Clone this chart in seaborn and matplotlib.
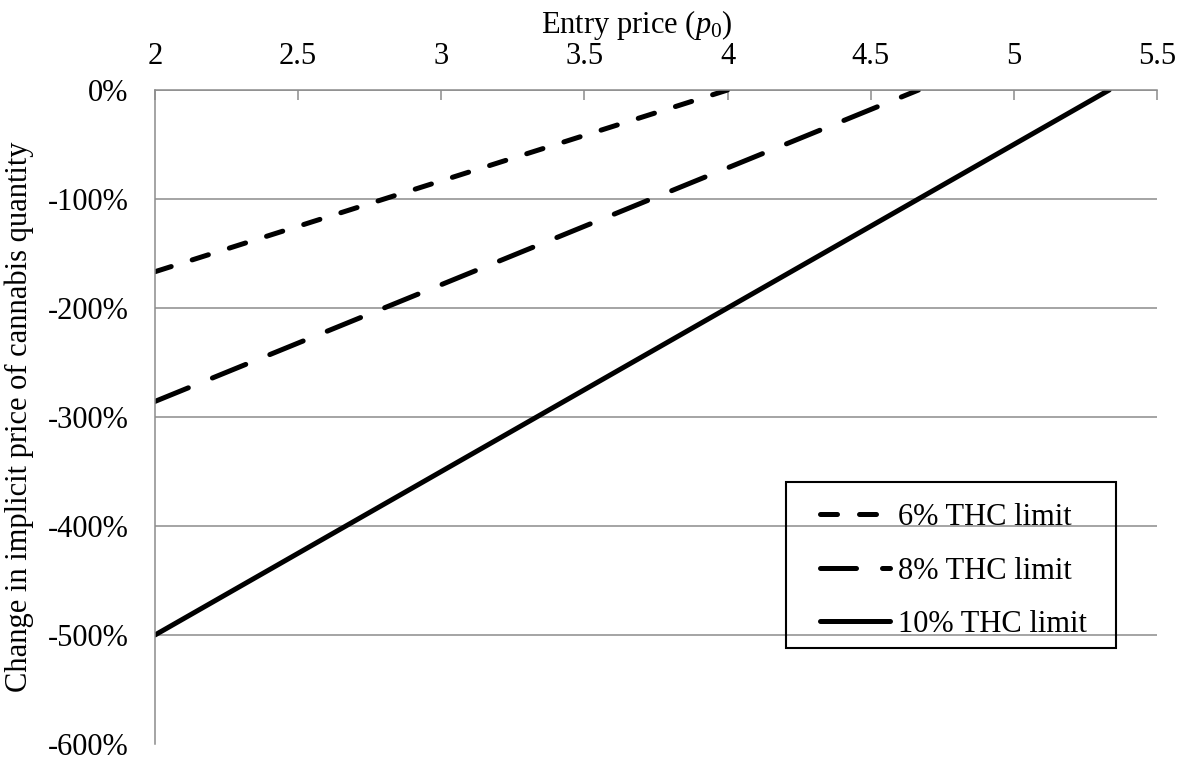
import numpy as np
import pandas as pd
import matplotlib
matplotlib.use('Agg')
import matplotlib.pyplot as plt
import seaborn as sns
from matplotlib.ticker import FuncFormatter
from matplotlib.patches import Rectangle

# values
series_names = ['6% THC limit', '8% THC limit', '10% THC limit']
price_6 = [2.0, 4.0]
change_6 = [-166.7, 0.0]
price_8 = [2.0, 4.667]
change_8 = [-285.7, 0.0]
price_10 = [2.0, 5.333]
change_10 = [-500.0, 0.0]

x_ticks = [2, 2.5, 3, 3.5, 4, 4.5, 5, 5.5]
x_tick_labels = ['2', '2.5', '3', '3.5', '4', '4.5', '5', '5.5']
y_ticks = [0, -100, -200, -300, -400, -500, -600]

df = pd.concat([
	pd.DataFrame({'price': price_6, 'change': change_6, 'series': series_names[0]}),
	pd.DataFrame({'price': price_8, 'change': change_8, 'series': series_names[1]}),
	pd.DataFrame({'price': price_10, 'change': change_10, 'series': series_names[2]}),
], ignore_index=True)

sns.set_style('white')
plt.rcParams['font.family'] = ['Liberation Serif', 'DejaVu Serif']
plt.rcParams['mathtext.fontset'] = 'custom'
plt.rcParams['mathtext.rm'] = 'Liberation Serif'
plt.rcParams['mathtext.it'] = 'Liberation Serif:italic'
plt.rcParams['lines.dash_capstyle'] = 'round'
plt.rcParams['lines.solid_capstyle'] = 'round'
plt.rcParams['text.color'] = 'black'
plt.rcParams['axes.labelcolor'] = 'black'

grey = '#8c8c8c'
fs = 22
W, H = 1184, 760

fig = plt.figure(figsize=(W / 100, H / 100), dpi=100)
ax = fig.add_axes([155 / W, 1 - 744 / H, (1157 - 155) / W, (744 - 90) / H])

dashes = {series_names[0]: (3.4, 4.4), series_names[1]: (7.2, 5.2), series_names[2]: ''}
sns.lineplot(data=df, x='price', y='change', hue='series', style='series',
             palette=['black'] * 3, dashes=dashes, linewidth=3.6, ax=ax)

ax.set_xlim(2, 5.5)
ax.set_ylim(-600, 0)
ax.set_xticks(x_ticks)
ax.set_xticklabels(x_tick_labels)
ax.set_yticks(y_ticks)
ax.yaxis.set_major_formatter(FuncFormatter(lambda v, p: '{0}%'.format(int(round(v)))))

ax.xaxis.tick_top()
ax.xaxis.set_label_position('top')
ax.set_xlabel('Entry price ($p_0$)', fontsize=fs)
ax.xaxis.set_label_coords((637 - 155) / 1002, 1.0 + (90 - 33) / 654)
ax.xaxis.label.set_va('baseline')
ax.set_ylabel('Change in implicit price of cannabis quantity', fontsize=fs, labelpad=10)

ax.tick_params(axis='x', direction='in', length=7, width=1.1, color=grey, labelcolor='black',
               labelsize=fs, pad=14)
ax.tick_params(axis='y', direction='out', length=6, width=1.1, color=grey, labelcolor='black',
               labelsize=fs, pad=13)

ax.yaxis.grid(True, color=grey, linewidth=1.1)
ax.get_ygridlines()[-1].set_visible(False)
ax.xaxis.grid(False)
for side in ['right', 'bottom']:
	ax.spines[side].set_visible(False)
for side in ['left', 'top']:
	ax.spines[side].set_color(grey)
	ax.spines[side].set_linewidth(1.1)

handles, labels = ax.get_legend_handles_labels()
leg = ax.legend(handles, labels, loc='lower left', bbox_to_anchor=(820 / W, 1 - 639 / H),
                bbox_transform=fig.transFigure, fontsize=fs, frameon=False,
                handlelength=2.3, handletextpad=0.26, labelspacing=0.8, borderpad=0,
                borderaxespad=0)

# legend box drawn separately to get the same padding as the reference
fig.patches.append(Rectangle((786 / W, 1 - 648 / H), (1116 - 786) / W, (648 - 482) / H,
                             transform=fig.transFigure, fill=False, edgecolor='black',
                             linewidth=1.5, zorder=5))

fig.savefig('out.png', dpi=100)
